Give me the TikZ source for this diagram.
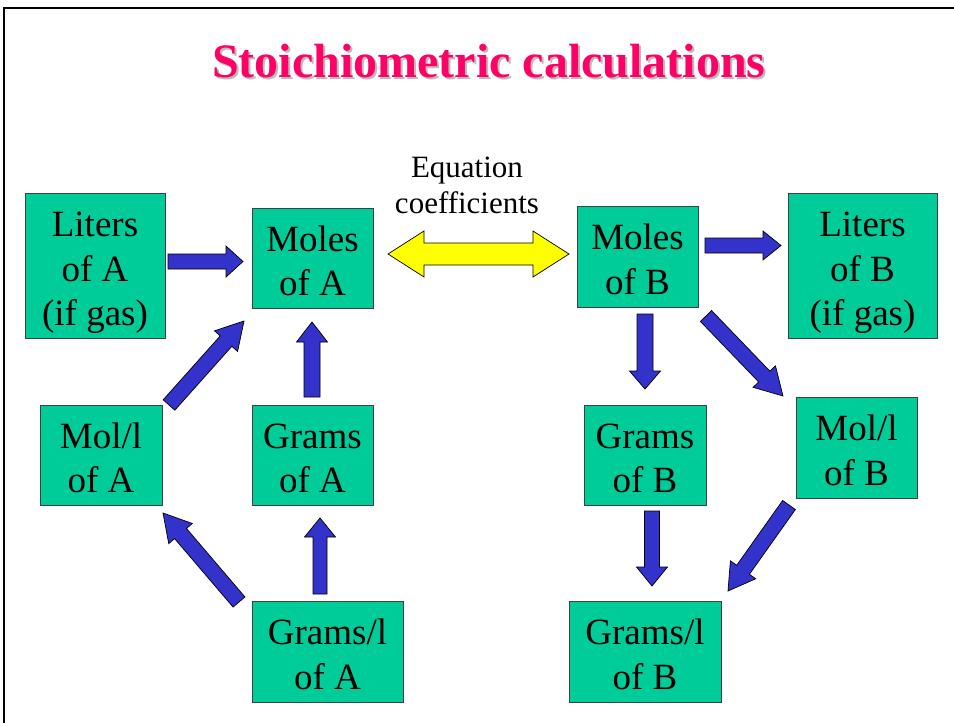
\documentclass[tikz,border=0pt]{standalone}
\usepackage{fontspec}
\setmainfont{Liberation Serif}
\usetikzlibrary{calc}
\definecolor{boxgreen}{HTML}{00CC99}
\definecolor{arrowblue}{HTML}{3333CC}
\definecolor{titlepink}{HTML}{FF0066}
\definecolor{shadowgray}{HTML}{BBBBBB}
\definecolor{arrowyellow}{HTML}{FFFF00}
\newcommand{\lowstrut}{\rule{0pt}{31pt}}
\newcommand{\lowerstrut}{\rule{0pt}{39pt}}
\newcommand{\shadowtext}[1]{\makebox[0pt][l]{\hspace{2pt}\raisebox{-2pt}{\color{shadowgray}#1}}#1}
\tikzset{
  stepbox/.style={draw=black!75, line width=0.8pt, fill=boxgreen, inner sep=0pt,
    align=center, font=\fontsize{37}{44.5}\selectfont, text=black},
  blockarrow/.style={draw=black, line width=0.7pt, fill=arrowblue, line join=miter},
  labeltext/.style={align=center, font=\fontsize{31}{36}\selectfont, inner sep=0pt},
}
% #1 tail, #2 tip, #3 half shaft width, #4 half head width, #5 head length
\newcommand{\blockarr}[5]{%
  \coordinate (ba-base) at ($(#2)!#5!(#1)$);
  \draw[blockarrow]
    ($(#1)!#3!90:(#2)$) -- ($(ba-base)!#3!90:(#2)$) -- ($(ba-base)!#4!90:(#2)$)
    -- (#2) -- ($(ba-base)!#4!-90:(#2)$) -- ($(ba-base)!#3!-90:(#2)$)
    -- ($(#1)!#3!-90:(#2)$) -- cycle;}
\begin{document}
\begin{tikzpicture}[x=1pt, y=-1pt]
\useasboundingbox (0,0) rectangle (954,723);
\fill[white] (0,0) rectangle (954,723);
% frame
\draw[line width=2pt, black] (4,723) -- (4,8) -- (954,8);
% title (with its drop shadow)
\node[text=titlepink, font=\fontsize{48}{56}\bfseries\selectfont, anchor=base west, inner sep=0pt] (title) at (212,77) {\shadowtext{Stoichiometric calculations}};
% boxes
\node[stepbox, minimum width=140pt, minimum height=145pt] (litA) at (95,265.5) {\lowerstrut Liters\\of A\\(if gas)};
\node[stepbox, minimum width=121pt, minimum height=100pt] (molA) at (312.5,258) {\lowstrut Moles\\of A};
\node[stepbox, minimum width=121pt, minimum height=101pt] (molB) at (637.5,256.5) {\lowstrut Moles\\of B};
\node[stepbox, minimum width=149pt, minimum height=145pt] (litB) at (862.5,265.5) {\lowerstrut Liters\\of B\\(if gas)};
\node[stepbox, minimum width=122pt, minimum height=100pt] (mlA) at (101,455) {\lowstrut Mol/l\\of A};
\node[stepbox, minimum width=121pt, minimum height=100pt] (grA) at (312.5,455) {\lowstrut Grams\\of A};
\node[stepbox, minimum width=122pt, minimum height=100pt] (grB) at (645,455) {\lowstrut Grams\\of B};
\node[stepbox, minimum width=121pt, minimum height=101pt] (mlB) at (856.5,447.5) {\lowstrut Mol/l\\of B};
\node[stepbox, minimum width=151pt, minimum height=101pt] (glA) at (327.5,651.5) {\lowstrut Grams/l\\of A};
\node[stepbox, minimum width=152pt, minimum height=101pt] (glB) at (645,651.5) {\lowstrut Grams/l\\of B};
% equation coefficients label
\node[labeltext] (eqlabel) at (467,185.5) {Equation\\coefficients};
% arrow end points
\coordinate (a1t) at (168,261.5); \coordinate (a1h) at (243,261.5);
\coordinate (a2t) at (169,405);   \coordinate (a2h) at (244,321);
\coordinate (a3t) at (312,397);   \coordinate (a3h) at (312,322);
\coordinate (a4t) at (239,602);   \coordinate (a4h) at (163,513);
\coordinate (a5t) at (320,594);   \coordinate (a5h) at (320,518);
\coordinate (a7t) at (705,245.5); \coordinate (a7h) at (781,245.5);
\coordinate (a8t) at (645,314);   \coordinate (a8h) at (645,389);
\coordinate (a9t) at (706,316);   \coordinate (a9h) at (783,396);
\coordinate (a10t) at (652,511);  \coordinate (a10h) at (652,586);
\coordinate (a11t) at (789,505);  \coordinate (a11h) at (728,591);
\blockarr{a1t}{a1h}{7.5pt}{15.5pt}{17pt}
\blockarr{a2t}{a2h}{7.8pt}{15.5pt}{27pt}
\blockarr{a3t}{a3h}{8pt}{15.5pt}{20pt}
\blockarr{a4t}{a4h}{7.8pt}{15.5pt}{27pt}
\blockarr{a5t}{a5h}{7pt}{15.5pt}{19pt}
\blockarr{a7t}{a7h}{7.5pt}{14.5pt}{18pt}
\blockarr{a8t}{a8h}{8pt}{15.5pt}{18pt}
\blockarr{a9t}{a9h}{7.8pt}{15.5pt}{27pt}
\blockarr{a10t}{a10h}{7.5pt}{15.5pt}{19pt}
\blockarr{a11t}{a11h}{7.8pt}{15.5pt}{26pt}
% double arrow (equation coefficients)
\coordinate (dL) at (388,254);
\coordinate (dR) at (569,254);
\draw[draw=black, line width=0.7pt, fill=arrowyellow]
  (dL) -- ($(dL)+(36,-23)$) -- ($(dL)+(36,-11)$) -- ($(dR)+(-36,-11)$) -- ($(dR)+(-36,-23)$)
  -- (dR) -- ($(dR)+(-36,23)$) -- ($(dR)+(-36,11)$) -- ($(dL)+(36,11)$) -- ($(dL)+(36,23)$) -- cycle;
\end{tikzpicture}
\end{document}
